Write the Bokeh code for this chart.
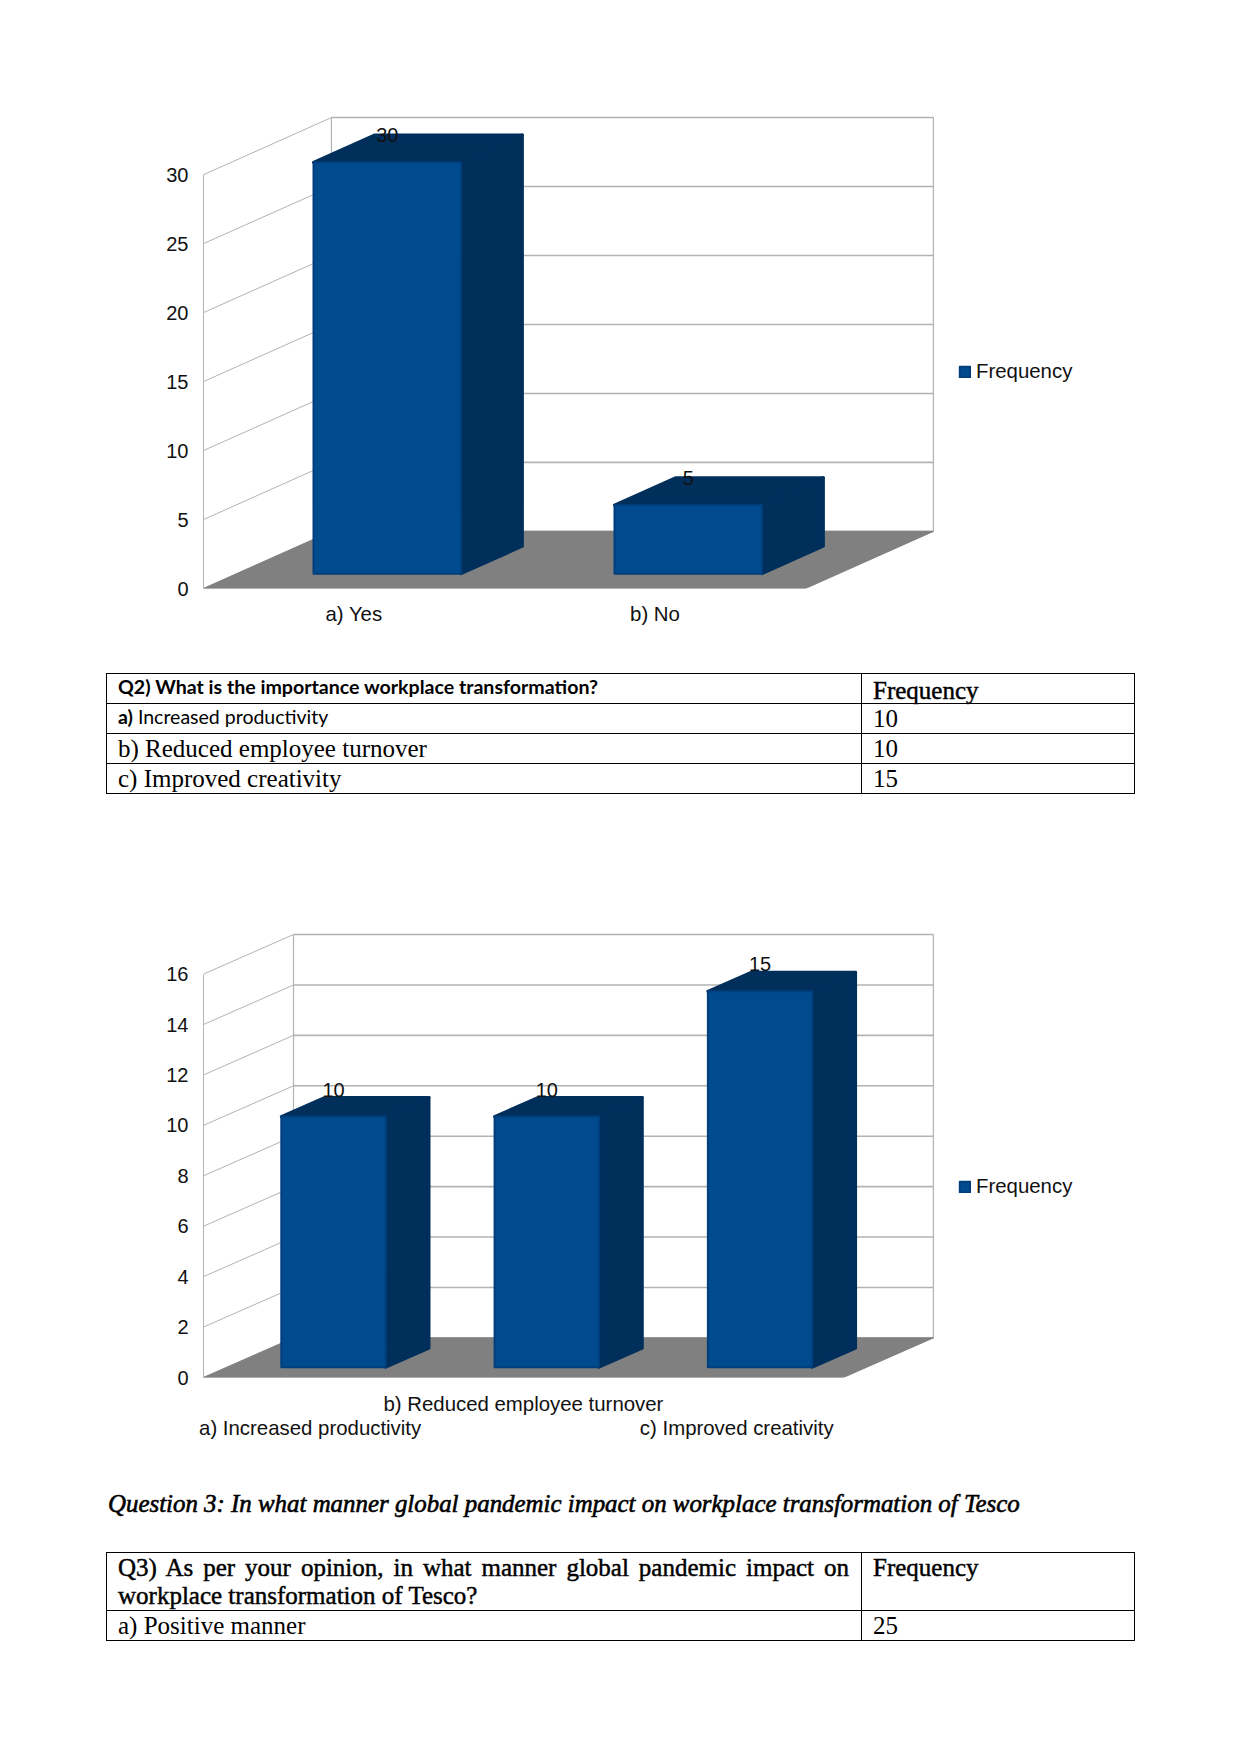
from bokeh.core.properties import value
from bokeh.embed import file_html
from bokeh.layouts import column
from bokeh.models import Div, FixedTicker, Legend, LegendItem, LinearAxis, Range1d
from bokeh.plotting import figure
from bokeh.resources import INLINE

# ---- data ----
q1_categories = ["a) Yes", "b) No"]
q1_values = [30, 5]
q1_ticks = [0, 5, 10, 15, 20, 25, 30]

q2_categories = ["a) Increased productivity", "b) Reduced employee turnover", "c) Improved creativity"]
q2_values = [10, 10, 15]
q2_ticks = [0, 2, 4, 6, 8, 10, 12, 14, 16]

series_name = "Frequency"

q2_table_head = "Q2) What is the importance workplace transformation?"
q2_table_labels = ["b) Reduced employee turnover", "c) Improved creativity"]
q3_title = "Question 3: In what manner global pandemic impact on workplace transformation of Tesco"
q3_head = "Q3) As per your opinion, in what manner global pandemic impact on workplace transformation of Tesco?"
q3_label = "a) Positive manner"
q3_value = 25

# ---- style ----
FRONT, DARK, RIM = "#004a8e", "#002f5c", "#003f7c"
FLOOR, GRID = "#808080", "#b3b3b3"
SANS = "Liberation Sans"
FS = "20px"
FS_CAT = "20.4px"
PAGE_WIDTH = 1226
PERSPECTIVE = 0.994  # far bars recede slightly in the original's 3-D view


def chart(categories, values, ticks, frame_height, border_top, border_bottom,
          depth_x, depth_y, x_pad, y_pad, label_gap, legend_y, stagger=False):
    n = len(categories)
    top = ticks[-1]
    p = figure(frame_width=732, frame_height=frame_height, output_backend="svg", toolbar_location=None,
               x_range=Range1d(0, n + depth_x + x_pad), y_range=Range1d(0, top + depth_y + y_pad),
               min_border_left=196, min_border_right=0,
               min_border_top=border_top, min_border_bottom=border_bottom,
               outline_line_color=None, x_axis_location=None, y_axis_location=None)
    p.grid.visible = False

    # walls
    p.segment([depth_x] * len(ticks), [t + depth_y for t in ticks],
              [n + depth_x] * len(ticks), [t + depth_y for t in ticks],
              line_color=GRID, line_width=1.6)
    p.segment([0] * len(ticks), ticks, [depth_x] * len(ticks), [t + depth_y for t in ticks],
              line_color=GRID, line_width=1)
    p.segment([depth_x, n + depth_x], [depth_y, depth_y], [depth_x, n + depth_x],
              [top + depth_y, top + depth_y], line_color=GRID, line_width=1.2)

    # floor
    p.patch([0, n, n + depth_x, depth_x], [0, 0, depth_y, depth_y], fill_color=FLOOR, line_color=FLOOR)

    # bars
    near, far, half = 0.26, 0.74, 0.245
    front_xs, front_ys, side_xs, side_ys, top_xs, top_ys, lab_x, lab_y = [], [], [], [], [], [], [], []
    for i, raw in enumerate(values):
        v = raw * PERSPECTIVE
        c = i + 0.5
        xl, xr = c - half + near * depth_x, c + half + near * depth_x
        y0 = near * depth_y
        dx, dy = (far - near) * depth_x, (far - near) * depth_y
        front_xs.append([xl, xr, xr, xl])
        front_ys.append([y0, y0, y0 + v, y0 + v])
        side_xs.append([xr, xr + dx, xr + dx, xr])
        side_ys.append([y0, y0 + dy, y0 + dy + v, y0 + v])
        top_xs.append([xl, xr, xr + dx, xl + dx])
        top_ys.append([y0 + v, y0 + v, y0 + v + dy, y0 + v + dy])
        lab_x.append(c + near * depth_x)
        lab_y.append(y0 + v + dy)
    p.patches(side_xs, side_ys, fill_color=DARK, line_color=DARK, line_width=3, line_join="round")
    p.patches(top_xs, top_ys, fill_color=DARK, line_color=DARK, line_width=3, line_join="round")
    front = p.patches(front_xs, front_ys, fill_color=FRONT, line_color=RIM, line_width=2, line_join="round")
    p.text(lab_x, lab_y, text=[str(v) for v in values], text_font=value(SANS), text_font_size=value(FS),
           text_color="#111111", text_align="center", text_baseline="middle", y_offset=label_gap)

    # axes
    y_ax = LinearAxis(ticker=FixedTicker(ticks=ticks), bounds=(0, top), axis_line_color=GRID,
                      major_tick_line_color=None, minor_tick_line_color=None, major_label_standoff=9,
                      major_label_text_font=SANS, major_label_text_font_size=FS, major_label_text_color="#111111")
    p.add_layout(y_ax, "left")

    def x_axis(idx, standoff):
        ax = LinearAxis(ticker=FixedTicker(ticks=[i + 0.5 for i in idx]),
                        major_label_overrides={i + 0.5: categories[i] for i in idx},
                        axis_line_color=None, major_tick_line_color=None, minor_tick_line_color=None,
                        major_label_standoff=standoff, major_label_text_font=SANS,
                        major_label_text_font_size=FS_CAT, major_label_text_color="#111111")
        p.add_layout(ax, "below")

    if stagger:
        x_axis([1], 9)
        x_axis([0, 2], -7)
    else:
        x_axis(list(range(n)), 8)

    legend = Legend(items=[LegendItem(label=series_name, renderers=[front])],
                    location=(23, legend_y),
                    border_line_color=None, background_fill_alpha=0, padding=0, margin=0, spacing=0,
                    glyph_width=13, glyph_height=13, label_standoff=5, label_height=13,
                    label_text_font=SANS, label_text_font_size=FS_CAT, label_text_color="#111111")
    p.add_layout(legend, "right")
    return p


TD = "border:1.4px solid #000;padding:0 12px 0 11px;"
SERIF = "font-family:'Liberation Serif';font-size:25px;color:#000;"
HEAVY = "-webkit-text-stroke:0.45px #000;"
LIFT = "position:relative;top:-2px;"

table_1 = f"""
<div style="position:relative;width:1226px;height:130px;{SERIF}">
<table style="position:absolute;left:99px;top:5px;width:1028px;border-collapse:collapse;table-layout:fixed;line-height:29px;">
<colgroup><col style="width:755px"><col style="width:273px"></colgroup>
<tr style="height:30px"><td style="{TD}font-family:Lato;font-size:19.6px;font-weight:700;"><span style="{LIFT}">{q2_table_head}</span></td><td style="{TD}{HEAVY}"><span style="position:relative;top:2px;">{series_name}</span></td></tr>
<tr style="height:30px"><td style="{TD}font-family:Lato;font-size:19.5px;"><span style="{LIFT}"><b>a)</b> Increased productivity</span></td><td style="{TD}">{q2_values[0]}</td></tr>
<tr style="height:30px"><td style="{TD}">{q2_table_labels[0]}</td><td style="{TD}">{q2_values[1]}</td></tr>
<tr style="height:29px"><td style="{TD}">{q2_table_labels[1]}</td><td style="{TD}">{q2_values[2]}</td></tr>
</table></div>"""

table_2 = f"""
<div style="position:relative;width:1226px;height:170px;{SERIF}">
<div style="position:absolute;left:101px;top:9px;white-space:nowrap;font-style:italic;font-size:24.9px;line-height:30px;-webkit-text-stroke:0.6px #000;">{q3_title}</div>
<table style="position:absolute;left:99px;top:72px;width:1028px;border-collapse:collapse;table-layout:fixed;line-height:28px;">
<colgroup><col style="width:755px"><col style="width:273px"></colgroup>
<tr style="height:58px"><td style="{TD}text-align:justify;vertical-align:top;padding-top:1px;{HEAVY}">{q3_head}</td><td style="{TD}vertical-align:top;padding-top:1px;{HEAVY}">{series_name}</td></tr>
<tr style="height:30px"><td style="{TD}">{q3_label}</td><td style="{TD}">{q3_value}</td></tr>
</table></div>"""

fig_1 = chart(q1_categories, q1_values, q1_ticks, frame_height=473, border_top=107, border_bottom=80,
              depth_x=0.425, depth_y=4.14, x_pad=0.007, y_pad=0.15, label_gap=0, legend_y=205)
fig_2 = chart(q2_categories, q2_values, q2_ticks, frame_height=445, border_top=134, border_bottom=103,
              depth_x=0.422, depth_y=1.57, x_pad=0.01, y_pad=0.08, label_gap=-8, legend_y=179, stagger=True)

page = column(fig_1,
              Div(text=table_1, width=PAGE_WIDTH, height=130, margin=0),
              fig_2,
              Div(text=table_2, width=PAGE_WIDTH, height=170, margin=0),
              spacing=0, margin=(8, 0, 0, 7))
open("out.html", "w").write(file_html(page, INLINE))
